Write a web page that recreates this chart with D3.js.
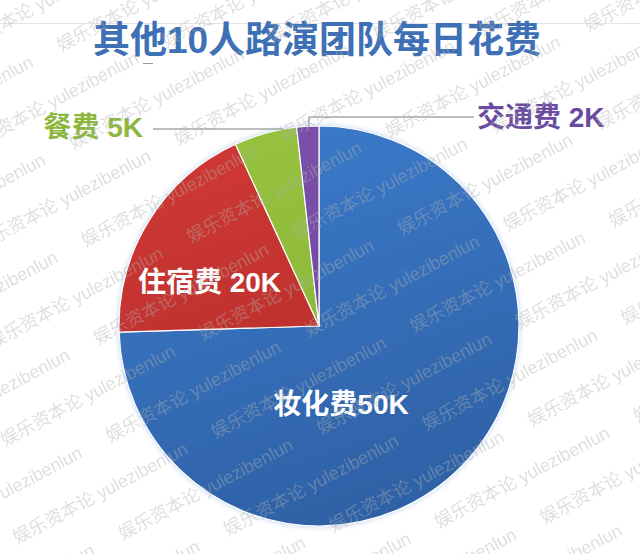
<!DOCTYPE html>
<html><head><meta charset="utf-8">
<script src="https://cdn.jsdelivr.net/npm/d3@7"></script>
<style>body{margin:0;background:#fff}svg{display:block}</style>
</head><body>
<script>
// ---- data ----
const title = "其他10人路演团队每日花费";
const categories = ["妆化费", "住宿费", "餐费", "交通费"];
const labelTexts = ["妆化费50K", "住宿费 20K", "餐费 5K", "交通费 2K"];
// slice sizes as drawn (blue = 50)
const values = [50, 12.5, 3.4, 1.2];
const colors = ["#3b7aca", "#cf3834", "#96c23f", "#7b50aa"];
const darkColors = ["#2e60a4", "#ae2b29", "#85b035", "#6a439a"];
const labelColors = ["#ffffff", "#ffffff", "#8bb73e", "#6a4b9f"];
const watermark = "娱乐资本论 yulezibenlun";

// ---- layout ----
const W = 640, H = 554, cx = 319, cy = 326, R = 200;
const FONT = "'Liberation Sans','Noto Sans CJK SC',sans-serif";

const svg = d3.select("body").append("svg").attr("width", W).attr("height", H);
const defs = svg.append("defs");
colors.forEach((c, i) => {
  const g = defs.append("linearGradient").attr("id", "g" + i)
    .attr("gradientUnits", "userSpaceOnUse")
    .attr("x1", -R * 0.3).attr("y1", -R).attr("x2", R * 0.3).attr("y2", R);
  g.append("stop").attr("offset", 0).attr("stop-color", c);
  g.append("stop").attr("offset", 1).attr("stop-color", darkColors[i]);
});
const blur = defs.append("filter").attr("id", "halo")
  .attr("x", "-20%").attr("y", "-20%").attr("width", "140%").attr("height", "140%");
blur.append("feGaussianBlur").attr("stdDeviation", 2.5);

svg.append("rect").attr("width", W).attr("height", H).attr("fill", "#fff");

// faint slide rule at top and a small stray dash
svg.append("line").attr("x1", 0).attr("x2", W).attr("y1", 23.5).attr("y2", 23.5)
  .attr("stroke", "#e4e4e4").attr("stroke-width", 1);
svg.append("line").attr("x1", 143).attr("x2", 153).attr("y1", 63.5).attr("y2", 63.5)
  .attr("stroke", "#9a9a9a").attr("stroke-width", 1);

// title
svg.append("text")
  .attr("x", 317).attr("y", 53)
  .attr("text-anchor", "middle")
  .attr("font-family", FONT).attr("font-weight", 700).attr("font-size", 37)
  .attr("fill", "#3e70b6")
  .text(title);

const pieGen = d3.pie().sort(null).value(d => d);
const arcs = pieGen(values);
const arc = d3.arc().innerRadius(0).outerRadius(R);

const g = svg.append("g").attr("transform", `translate(${cx},${cy})`);
g.append("circle").attr("r", R + 1).attr("fill", "#9fc0ea").attr("opacity", 0.6)
  .attr("filter", "url(#halo)");
g.selectAll("path.slice").data(arcs).join("path")
  .attr("class", "slice")
  .attr("d", arc)
  .attr("fill", (d, i) => `url(#g${i})`)
  .attr("stroke", "#fff").attr("stroke-width", 1.2).attr("stroke-linejoin", "round");

// inside labels (offsets from pie centre)
const insidePos = { 0: [22, 88], 1: [-109.5, -34] };
Object.keys(insidePos).forEach(k => {
  const i = +k;
  g.append("text")
    .attr("x", insidePos[k][0]).attr("y", insidePos[k][1])
    .attr("text-anchor", "middle")
    .attr("font-family", FONT).attr("font-weight", 700).attr("font-size", 28)
    .attr("fill", labelColors[i])
    .text(labelTexts[i]);
});

// outside labels with leader lines
const outside = [
  { i: 2, frac: 0.79, lineY: -197, textX: -176, textY: -189, anchor: "end", lineStart: -166, size: 28 },
  { i: 3, frac: 0.55, lineY: -209, textX: 158, textY: -199, anchor: "start", lineStart: 155, size: 28 }
];
outside.forEach(o => {
  const a = arcs[o.i];
  const th = a.startAngle + o.frac * (a.endAngle - a.startAngle);
  const px = Math.sin(th) * R, py = -Math.cos(th) * R;
  g.append("path")
    .attr("d", d3.line()([[o.lineStart, o.lineY], [px, o.lineY], [px, py]]))
    .attr("fill", "none").attr("stroke", "#7a7a7a").attr("stroke-width", 1);
  g.append("text")
    .attr("x", o.textX).attr("y", o.textY)
    .attr("text-anchor", o.anchor)
    .attr("font-family", FONT).attr("font-weight", 700).attr("font-size", o.size)
    .attr("fill", labelColors[o.i])
    .text(labelTexts[o.i]);
});

// watermark overlay: tiled copies along parallel slanted lines over the whole picture
const wm = svg.append("g").attr("pointer-events", "none");
const ang = 28 * Math.PI / 180, len = 192;
const period = 225, lineGap = 46, phase = 95;
const ca = Math.cos(ang), sa = Math.sin(ang);
for (let i = -8; i <= 24; i++) {
  for (let j = -5; j <= 7; j++) {
    const u = j * period + ((i * phase) % period + period) % period;
    const v = i * lineGap;
    const x = u * ca + v * sa - 150;
    const y = -u * sa + v * ca + 60;
    const ex = x + len * ca, ey = y - len * sa;
    if (ex < 0 || x > W || y < 0 || ey - 16 > H) continue;
    wm.append("text")
      .attr("transform", `translate(${x},${y}) rotate(-28)`)
      .attr("font-family", FONT).attr("font-size", 18)
      .attr("fill", "#b0b0b0").attr("opacity", 0.4)
      .text(watermark);
  }
}
</script>
</body></html>
